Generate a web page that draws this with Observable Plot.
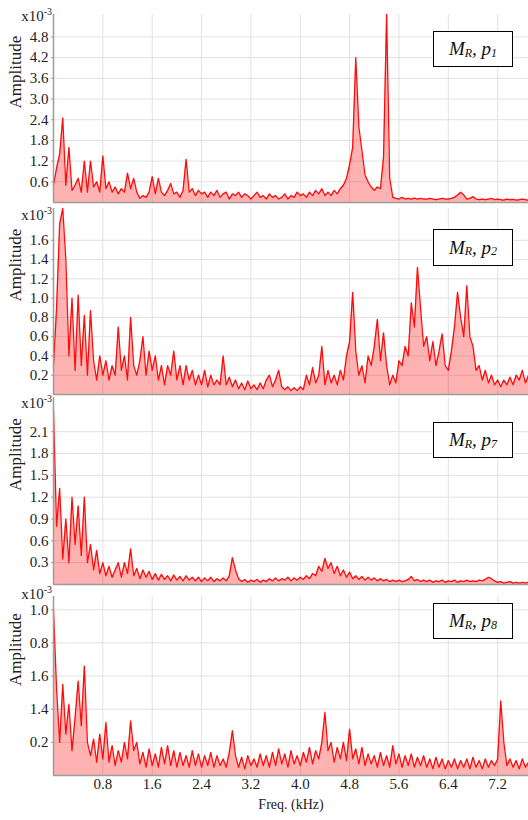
<!DOCTYPE html>
<html>
<head>
<meta charset="utf-8">
<script src="https://cdn.jsdelivr.net/npm/d3@7"></script>
<script src="https://cdn.jsdelivr.net/npm/@observablehq/plot@0.6"></script>
<style>
  html, body { margin: 0; padding: 0; background: #fff; }
  #chart { position: relative; width: 528px; height: 820px; font-family: "Liberation Serif", serif; }
  #chart .panel { position: absolute; left: 0; }
  .scale { position: absolute; left: 0; width: 52px; text-align: right; font-size: 15px; line-height: 15px; color: #222; }
  .scale sup { font-size: 10px; position: relative; top: -6px; vertical-align: baseline; }
  .legend { position: absolute; left: 433px; width: 80px; box-sizing: border-box; border: 1px solid #000; background: #fff;
            display: flex; align-items: center; justify-content: center; font-style: italic; font-size: 19px; color: #111; }
  .legend sub { font-size: 12px; position: relative; top: 4px; vertical-align: baseline; }
</style>
</head>
<body>
<div id="chart"></div>
<script>
// ---- data (amplitudes in x10^-3, sampled every 0.05 kHz from 0 to 7.70 kHz) ----
const freqStep = 0.05;
const xTicks = [0.8, 1.6, 2.4, 3.2, 4.0, 4.8, 5.6, 6.4, 7.2];
const xTickLabels = ["0.8", "1.6", "2.4", "3.2", "4.0", "4.8", "5.6", "6.4", "7.2"];
const xLabel = "Freq. (kHz)";
const yLabel = "Amplitude";
const seriesNames = ["1", "2", "7", "8"];

const p1Values = [
  0.5,1.0,1.4,2.45,0.5,1.6,0.35,0.5,0.7,0.3,
  1.2,0.3,1.2,0.45,0.6,0.3,1.35,0.4,0.6,0.3,
  0.45,0.25,0.4,0.3,0.85,0.4,0.7,0.3,0.12,0.2,
  0.15,0.3,0.75,0.25,0.7,0.3,0.2,0.35,0.55,0.25,
  0.3,0.15,0.35,1.25,0.3,0.4,0.2,0.35,0.25,0.3,
  0.15,0.3,0.2,0.35,0.15,0.25,0.3,0.1,0.25,0.2,
  0.3,0.15,0.25,0.2,0.1,0.2,0.3,0.15,0.2,0.1,
  0.25,0.15,0.2,0.1,0.15,0.25,0.1,0.2,0.15,0.3,
  0.2,0.25,0.15,0.3,0.2,0.35,0.25,0.4,0.2,0.3,
  0.2,0.35,0.25,0.4,0.5,0.7,1.1,1.6,4.2,2.2,
  1.5,0.8,0.6,0.45,0.35,0.45,0.4,1.3,5.45,0.7,
  0.15,0.12,0.1,0.15,0.1,0.12,0.1,0.13,0.1,0.12,
  0.1,0.1,0.12,0.1,0.08,0.1,0.12,0.1,0.1,0.12,
  0.15,0.22,0.3,0.22,0.1,0.12,0.17,0.1,0.08,0.1,
  0.08,0.1,0.12,0.08,0.1,0.08,0.07,0.1,0.08,0.09,
  0.07,0.08,0.1,0.08,0.07
];
const p2Values = [
  0.3,0.9,1.77,1.93,1.4,0.4,1.0,0.25,1.03,0.3,
  0.82,0.2,0.87,0.35,0.15,0.4,0.2,0.35,0.15,0.3,
  0.2,0.7,0.25,0.4,0.15,0.8,0.3,0.2,0.35,0.6,
  0.2,0.45,0.25,0.4,0.15,0.3,0.1,0.3,0.2,0.45,
  0.15,0.3,0.1,0.3,0.15,0.25,0.1,0.2,0.1,0.25,
  0.08,0.2,0.1,0.15,0.1,0.4,0.1,0.18,0.08,0.15,
  0.06,0.12,0.05,0.14,0.06,0.1,0.05,0.12,0.06,0.15,
  0.2,0.08,0.15,0.25,0.08,0.05,0.08,0.04,0.07,0.04,
  0.08,0.05,0.2,0.1,0.28,0.12,0.2,0.5,0.1,0.25,
  0.12,0.2,0.1,0.25,0.15,0.4,0.55,1.06,0.45,0.2,
  0.3,0.12,0.4,0.3,0.5,0.78,0.35,0.64,0.3,0.1,
  0.2,0.12,0.35,0.3,0.5,0.4,0.95,0.7,1.32,0.9,
  0.5,0.6,0.35,0.55,0.3,0.45,0.63,0.3,0.25,0.45,
  0.7,1.06,0.8,0.6,1.13,0.6,0.5,0.25,0.3,0.15,
  0.25,0.12,0.2,0.1,0.15,0.08,0.15,0.1,0.18,0.1,
  0.2,0.15,0.25,0.12,0.2
];
const p3Values = [
  2.4,0.8,1.32,0.35,0.9,0.3,1.2,0.55,1.08,0.4,
  1.2,0.3,0.55,0.2,0.47,0.15,0.3,0.12,0.25,0.1,
  0.2,0.3,0.1,0.3,0.15,0.49,0.12,0.22,0.08,0.2,
  0.1,0.18,0.07,0.15,0.06,0.14,0.07,0.12,0.05,0.13,
  0.06,0.11,0.05,0.12,0.06,0.1,0.05,0.1,0.04,0.09,
  0.05,0.1,0.04,0.08,0.05,0.09,0.05,0.12,0.37,0.2,
  0.08,0.04,0.07,0.03,0.06,0.04,0.07,0.03,0.06,0.04,
  0.08,0.05,0.09,0.05,0.08,0.06,0.1,0.05,0.09,0.06,
  0.1,0.07,0.12,0.08,0.15,0.12,0.25,0.18,0.36,0.22,
  0.3,0.15,0.25,0.12,0.2,0.1,0.17,0.08,0.12,0.07,
  0.11,0.06,0.1,0.06,0.09,0.05,0.08,0.05,0.07,0.04,
  0.06,0.04,0.06,0.04,0.05,0.07,0.11,0.05,0.07,0.04,
  0.06,0.04,0.06,0.03,0.05,0.04,0.06,0.03,0.05,0.04,
  0.06,0.03,0.05,0.04,0.06,0.04,0.05,0.04,0.06,0.05,
  0.07,0.1,0.08,0.05,0.03,0.04,0.02,0.03,0.04,0.02,
  0.03,0.02,0.03,0.02,0.03
];
const p4Values = [
  1.0,0.52,0.2,0.55,0.25,0.43,0.15,0.35,0.57,0.3,
  0.66,0.2,0.12,0.22,0.08,0.25,0.1,0.32,0.08,0.18,
  0.06,0.15,0.08,0.2,0.1,0.33,0.15,0.2,0.07,0.14,
  0.05,0.16,0.06,0.13,0.05,0.17,0.07,0.18,0.06,0.15,
  0.05,0.14,0.06,0.12,0.05,0.15,0.06,0.13,0.05,0.12,
  0.06,0.14,0.05,0.12,0.06,0.1,0.05,0.14,0.27,0.12,
  0.05,0.11,0.04,0.12,0.06,0.1,0.05,0.13,0.06,0.12,
  0.05,0.14,0.06,0.16,0.07,0.13,0.05,0.15,0.07,0.12,
  0.06,0.14,0.08,0.17,0.07,0.15,0.1,0.2,0.38,0.15,
  0.2,0.08,0.17,0.1,0.2,0.09,0.28,0.1,0.16,0.07,
  0.17,0.06,0.13,0.07,0.12,0.05,0.14,0.06,0.12,0.05,
  0.18,0.07,0.13,0.05,0.12,0.06,0.13,0.05,0.11,0.06,
  0.12,0.05,0.1,0.04,0.11,0.05,0.1,0.04,0.09,0.05,
  0.1,0.04,0.09,0.05,0.1,0.04,0.11,0.05,0.09,0.04,
  0.1,0.05,0.09,0.06,0.1,0.45,0.2,0.06,0.1,0.05,
  0.09,0.04,0.1,0.05,0.08
];

const p1Ticks = [0.6, 1.2, 1.8, 2.4, 3.0, 3.6, 4.2, 4.8];
const p1TickLabels = ["0.6", "1.2", "1.8", "2.4", "3.0", "3.6", "4.2", "4.8"];
const p2Ticks = [0.2, 0.4, 0.6, 0.8, 1.0, 1.2, 1.4, 1.6];
const p2TickLabels = ["0.2", "0.4", "0.6", "0.8", "1.0", "1.2", "1.4", "1.6"];
const p3Ticks = [0.3, 0.6, 0.9, 1.2, 1.5, 1.8, 2.1];
const p3TickLabels = ["0.3", "0.6", "0.9", "1.2", "1.5", "1.8", "2.1"];
const p4Ticks = [0.2, 0.4, 0.6, 0.8, 1.0];
const p4TickLabels = ["0.2", "1.4", "1.6", "0.8", "1.0"];

// ---- layout ----
const W = 528;
const FONT = "Liberation Serif";
const panels = [
  {values: p1Values, ticks: p1Ticks, labels: p1TickLabels, ymax: 5.45, top: 14, bottom: 202, scaleBase: 21, legendTop: 31, legendH: 36, name: seriesNames[0]},
  {values: p2Values, ticks: p2Ticks, labels: p2TickLabels, ymax: 1.93, top: 208, bottom: 394, scaleBase: 220, legendTop: 229, legendH: 37, name: seriesNames[1]},
  {values: p3Values, ticks: p3Ticks, labels: p3TickLabels, ymax: 2.57, top: 397, bottom: 584, scaleBase: 408, legendTop: 422, legendH: 36, name: seriesNames[2]},
  {values: p4Values, ticks: p4Ticks, labels: p4TickLabels, ymax: 1.08, top: 596, bottom: 775, scaleBase: 599, legendTop: 603, legendH: 36, name: seriesNames[3]}
];

const chart = document.getElementById("chart");
const gridColor = "#e2e2e2";
const axisColor = "#9c9c9c";
const lineColor = "#ff0000";

panels.forEach((p, k) => {
  const last = k === panels.length - 1;
  const mt = 4, mb = last ? 44 : 2;
  const data = p.values.map((v, i) => ({f: i * freqStep, a: v}));
  const labelMap = new Map(p.ticks.map((t, i) => [t, p.labels[i]]));
  const xTickMap = new Map(xTicks.map((t, i) => [t, xTickLabels[i]]));
  const marks = [
    Plot.gridX(xTicks, {stroke: gridColor, strokeOpacity: 1}),
    Plot.gridY(p.ticks, {stroke: gridColor, strokeOpacity: 1}),
    Plot.areaY(data, {x: "f", y: "a", fill: lineColor, fillOpacity: 0.3}),
    Plot.lineY(data, {x: "f", y: "a", stroke: lineColor, strokeWidth: 1.3, strokeOpacity: 0.95}),
    Plot.ruleX([0], {stroke: axisColor, strokeWidth: 1.5}),
    Plot.ruleY([0], {stroke: axisColor, strokeWidth: 1.5}),
    Plot.axisY(p.ticks, {tickSize: 2, tickPadding: 3, fontSize: 15, fontFamily: FONT, label: null, stroke: axisColor, fill: "#222",
      tickFormat: d => labelMap.get(d)}),
    Plot.text([yLabel], {frameAnchor: "left", dx: -38, rotate: -90, text: d => d, fontSize: 17, fontFamily: FONT, fill: "#222"})
  ];
  if (last) {
    marks.push(Plot.axisX(xTicks, {tickSize: 0, tickPadding: 3, fontSize: 15, fontFamily: FONT, label: null, fill: "#222",
      tickFormat: d => xTickMap.get(d)}));
    marks.push(Plot.text([xLabel], {frameAnchor: "bottom", dy: 33, text: d => d, fontSize: 14, fontFamily: FONT, fill: "#222"}));
  }
  const svg = Plot.plot({
    width: W,
    height: (p.bottom - p.top) + mt + mb,
    marginLeft: 53, marginRight: 0, marginTop: mt, marginBottom: mb,
    style: {background: "transparent", overflow: "visible"},
    x: {domain: [0, 7.7], axis: null},
    y: {domain: [0, p.ymax], axis: null},
    marks
  });
  svg.classList.add("panel");
  svg.style.top = (p.top - mt) + "px";
  chart.appendChild(svg);

  const sc = document.createElement("div");
  sc.className = "scale";
  sc.style.top = (p.scaleBase - 12) + "px";
  sc.innerHTML = "x10<sup>-3</sup>";
  chart.appendChild(sc);

  const lg = document.createElement("div");
  lg.className = "legend";
  lg.style.top = p.legendTop + "px";
  lg.style.height = p.legendH + "px";
  lg.innerHTML = "M<sub>R</sub>,&nbsp;p<sub>" + p.name + "</sub>";
  chart.appendChild(lg);
});
</script>
</body>
</html>
